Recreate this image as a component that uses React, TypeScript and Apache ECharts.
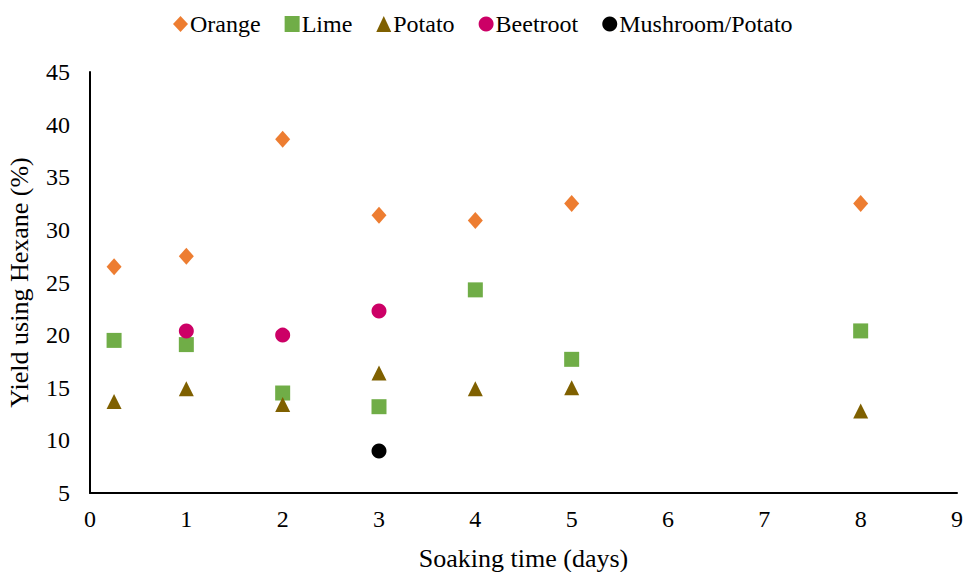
import React, { useEffect, useRef } from "react";
import * as echarts from "echarts";

const orangeX = [0.25, 1, 2, 3, 4, 5, 8];
const orangeY = [26.5, 27.5, 38.6, 31.4, 30.9, 32.5, 32.5];
const limeX = [0.25, 1, 2, 3, 4, 5, 8];
const limeY = [19.5, 19.1, 14.5, 13.2, 24.3, 17.7, 20.4];
const potatoX = [0.25, 1, 2, 3, 4, 5, 8];
const potatoY = [13.7, 14.9, 13.4, 16.4, 14.9, 15.0, 12.8];
const beetrootX = [1, 2, 3];
const beetrootY = [20.4, 20.0, 22.3];
const mushroomX = [3];
const mushroomY = [9.0];

const zip = (xs: number[], ys: number[]) => xs.map((x, i) => [x, ys[i]]);

const FONT = "Liberation Serif";

export default function App() {
  const ref = useRef<HTMLDivElement>(null);
  useEffect(() => {
    if (!ref.current) return;
    const chart = echarts.init(ref.current, null, { renderer: "svg" });
    const mk = (name: string, data: number[][], symbol: string, color: string, size: number | number[]) => ({
      name,
      type: "scatter",
      data,
      symbol,
      symbolSize: size,
      itemStyle: { color, opacity: 1 },
    });
    chart.setOption({
      animation: false,
      textStyle: { fontFamily: FONT },
      legend: {
        top: 12,
        left: 173,
        padding: 0,
        itemWidth: 15,
        itemHeight: 16,
        itemGap: 24,
        textStyle: {
          fontFamily: FONT,
          fontSize: 24,
          color: "#000",
          padding: [0, 0, 0, -3],
        },
        data: [
          { name: "Orange", icon: "diamond" },
          { name: "Lime", icon: "rect" },
          { name: "Potato", icon: "triangle" },
          { name: "Beetroot", icon: "circle" },
          { name: "Mushroom/Potato", icon: "circle" },
        ],
      },
      grid: { left: 90, right: 8, top: 72, bottom: 79, containLabel: false, outerBoundsMode: "none" },
      xAxis: {
        type: "value",
        min: 0,
        max: 9,
        interval: 1,
        splitLine: { show: false },
        axisTick: { show: false },
        axisLine: { lineStyle: { color: "#000", width: 2 } },
        axisLabel: { fontFamily: FONT, fontSize: 24, color: "#000", margin: 14 },
        name: "Soaking time (days)",
        nameLocation: "middle",
        nameGap: 52,
        nameTextStyle: { fontFamily: FONT, fontSize: 26, color: "#000" },
      },
      yAxis: {
        type: "value",
        min: 5,
        max: 45,
        interval: 5,
        splitLine: { show: false },
        axisTick: { show: false },
        axisLine: { show: true, lineStyle: { color: "#000", width: 2 } },
        axisLabel: { fontFamily: FONT, fontSize: 24, color: "#000", margin: 20 },
        name: "Yield using Hexane (%)",
        nameLocation: "middle",
        nameGap: 58,
        nameTextStyle: { fontFamily: FONT, fontSize: 26, color: "#000" },
      },
      series: [
        mk("Orange", zip(orangeX, orangeY), "diamond", "#ED7D31", [15, 17]),
        mk("Lime", zip(limeX, limeY), "rect", "#70AD47", 15),
        mk("Potato", zip(potatoX, potatoY), "triangle", "#7F6000", 15),
        mk("Beetroot", zip(beetrootX, beetrootY), "circle", "#CC0066", 15),
        mk("Mushroom/Potato", zip(mushroomX, mushroomY), "circle", "#000000", 15),
      ],
    });
    return () => chart.dispose();
  }, []);
  return <div ref={ref} style={{ width: 965, height: 572, position: "absolute", left: 0, top: 0 }} />;
}
